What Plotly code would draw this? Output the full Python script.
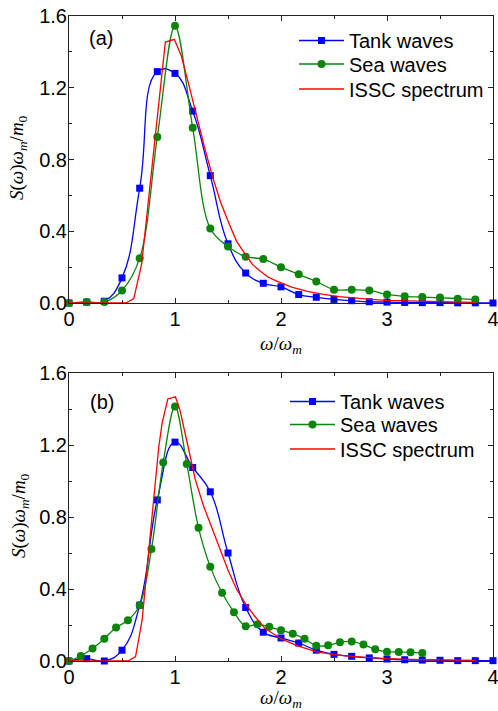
import plotly.graph_objects as go

# ---------------- data ----------------
tank_a_x = [0, 0.167, 0.333, 0.5, 0.667, 0.833, 1.0, 1.167, 1.333, 1.5, 1.667, 1.833, 2.0,
            2.167, 2.333, 2.5, 2.667, 2.833, 3.0, 3.167, 3.333, 3.5, 3.667, 3.833, 4.0]
tank_a_y = [0.0, 0.005, 0.01, 0.14, 0.64, 1.29, 1.28, 1.07, 0.71, 0.33, 0.167, 0.11, 0.09,
            0.047, 0.032, 0.02, 0.013, 0.007, 0.005, 0.003, 0.002, 0.002, 0.001, 0.001, 0.0]

sea_a_x = [0, 0.167, 0.333, 0.5, 0.667, 0.833, 1.0, 1.167, 1.333, 1.5, 1.667, 1.833, 2.0,
           2.167, 2.333, 2.5, 2.667, 2.833, 3.0, 3.167, 3.333, 3.5, 3.667, 3.833]
sea_a_y = [0.0, 0.005, 0.005, 0.07, 0.25, 0.925, 1.545, 0.977, 0.415, 0.315, 0.258, 0.245, 0.20,
           0.16, 0.12, 0.074, 0.074, 0.07, 0.048, 0.037, 0.033, 0.03, 0.024, 0.019]

issc_a_x = [0, 0.537, 0.611, 0.686, 0.760, 0.835, 0.909, 0.994, 1.058, 1.133, 1.207, 1.282,
            1.356, 1.431, 1.505, 1.58, 1.654, 1.73, 1.80, 1.877, 1.95, 2.1, 2.25, 2.4, 2.55,
            2.7, 2.85, 3.0, 3.2, 3.4, 3.6, 3.83]
issc_a_y = [0.0, 0.0, 0.025, 0.22, 0.63, 1.04, 1.455, 1.47, 1.38, 1.21, 1.035, 0.86,
            0.70, 0.56, 0.45, 0.345, 0.28, 0.215, 0.18, 0.145, 0.125, 0.088, 0.065, 0.048, 0.036,
            0.027, 0.02, 0.015, 0.011, 0.008, 0.006, 0.004]

tank_b_x = tank_a_x
tank_b_y = [0.0, 0.013, 0.0, 0.06, 0.31, 0.895, 1.216, 1.075, 0.94, 0.60, 0.297, 0.16, 0.128,
            0.10, 0.06, 0.037, 0.026, 0.017, 0.011, 0.007, 0.005, 0.004, 0.002, 0.002, 0.002]

sea_b_x = [0, 0.111, 0.222, 0.333, 0.444, 0.556, 0.667, 0.778, 0.889, 1.0, 1.111, 1.222,
           1.333, 1.444, 1.556, 1.667, 1.778, 1.889, 2.0, 2.111, 2.222, 2.333, 2.444, 2.556,
           2.667, 2.778, 2.889, 3.0, 3.111, 3.222, 3.333]
sea_b_y = [0.0, 0.028, 0.069, 0.124, 0.186, 0.226, 0.31, 0.622, 1.103, 1.414, 1.095, 0.74,
           0.523, 0.379, 0.271, 0.193, 0.204, 0.19, 0.171, 0.152, 0.123, 0.085, 0.087, 0.104,
           0.108, 0.091, 0.065, 0.052, 0.05, 0.048, 0.045]

issc_b_x = [0, 0.558, 0.628, 0.69, 0.76, 0.816, 0.847, 0.878, 0.932, 1.004, 1.045, 1.12,
            1.19, 1.27, 1.344, 1.42, 1.5, 1.58, 1.663, 1.75, 1.85, 2.0, 2.15, 2.33, 2.5,
            2.7, 3.0, 3.3, 3.6, 3.84]
issc_b_y = [0.0, 0.0, 0.024, 0.228, 0.66, 1.015, 1.19, 1.32, 1.456, 1.468, 1.398, 1.20,
            1.01, 0.86, 0.745, 0.62, 0.505, 0.40, 0.32, 0.25, 0.18, 0.124, 0.085, 0.052, 0.035,
            0.024, 0.013, 0.008, 0.005, 0.004]

x_ticks = [0, 1, 2, 3, 4]
y_ticks = [0.0, 0.4, 0.8, 1.2, 1.6]
y_tick_text = ["0.0", "0.4", "0.8", "1.2", "1.6"]
names = ["Tank waves", "Sea waves", "ISSC spectrum"]
panel_labels = ["(a)", "(b)"]

BLUE, GREEN, RED = "#0000FF", "#0A850A", "#FF0000"
FONT = "Liberation Sans, Arial, sans-serif"
SERIF = "Liberation Serif, Times New Roman, serif"

W, H = 498, 711
L, R, T, B = 69, 5, 16, 50
ph = H - T - B

def py(pix):
    return (H - B - pix) / ph

def px(pix):
    return (pix - L) / (W - L - R)

fig = go.Figure()

panels = [
    ("x", "y", ["legend", "legend2", "legend3"], tank_a_x, tank_a_y, sea_a_x, sea_a_y, issc_a_x, issc_a_y),
    ("x2", "y2", ["legend4", "legend5", "legend6"], tank_b_x, tank_b_y, sea_b_x, sea_b_y, issc_b_x, issc_b_y),
]
for xa, ya, lg, tx, ty, sx, sy, ix, iy in panels:
    fig.add_trace(go.Scatter(x=tx, y=ty, name=names[0], mode="lines+markers", xaxis=xa, yaxis=ya,
                             legend=lg[0], line=dict(color=BLUE, width=1.3, shape="spline", smoothing=1.3),
                             marker=dict(symbol="square", size=7, color=BLUE), cliponaxis=False))
    fig.add_trace(go.Scatter(x=sx, y=sy, name=names[1], mode="lines+markers", xaxis=xa, yaxis=ya,
                             legend=lg[1], line=dict(color=GREEN, width=1.3, shape="spline", smoothing=1),
                             marker=dict(symbol="circle", size=8, color=GREEN), cliponaxis=False))
    fig.add_trace(go.Scatter(x=ix, y=iy, name=names[2], mode="lines", xaxis=xa, yaxis=ya,
                             legend=lg[2], line=dict(color=RED, width=1.3)))

axis_common = dict(showline=True, linecolor="#222", linewidth=1, mirror="allticks",
                   ticks="inside", ticklen=5, tickcolor="#222", showgrid=False, zeroline=False,
                   automargin=False, ticklabeloverflow="allow",
                   tickfont=dict(family=FONT, size=20, color="black"))
x_common = dict(axis_common, range=[0, 4], tickvals=x_ticks, ticklabelstandoff=-2,
                minor=dict(dtick=0.5, ticks="inside", ticklen=3, tickcolor="#222", showgrid=False))
y_common = dict(axis_common, range=[0, 1.6], tickvals=y_ticks, ticktext=y_tick_text,
                ticklabelstandoff=-3,
                minor=dict(dtick=0.2, ticks="inside", ticklen=3, tickcolor="#222", showgrid=False))

def leg(xpix, ypix):
    return dict(x=px(xpix), y=py(ypix), xanchor="left", yanchor="top", bgcolor="rgba(0,0,0,0)",
                font=dict(family=FONT, size=20, color="black"), itemwidth=45)

fig.update_layout(
    width=W, height=H, margin=dict(l=L, r=R, t=T, b=B, autoexpand=False),
    paper_bgcolor="white", plot_bgcolor="white",
    xaxis=dict(x_common, domain=[0, 1], anchor="y"),
    yaxis=dict(y_common, domain=[py(303), 1.0], anchor="x"),
    xaxis2=dict(x_common, domain=[0, 1], anchor="y2"),
    yaxis2=dict(y_common, domain=[0, py(373)], anchor="x2"),
    legend=leg(294, 21), legend2=leg(294, 44.5), legend3=leg(294, 69.5),
    legend4=leg(285, 382), legend5=leg(285, 405), legend6=leg(285, 429.5),
    showlegend=True,
)

ytitle = "<i>S</i>(<i>ω</i>)<i>ω</i><sub><i>m</i></sub>/<i>m</i><sub>0</sub>"
xtitle = "<i>ω</i>/<i>ω</i><sub><i>m</i></sub>"
annos = [
    dict(text=panel_labels[0], x=0.30, y=1.48, xref="x", yref="y", showarrow=False,
         font=dict(family=FONT, size=20, color="black")),
    dict(text=panel_labels[1], x=0.31, y=1.44, xref="x2", yref="y2", showarrow=False,
         font=dict(family=FONT, size=20, color="black")),
    dict(text=ytitle, textangle=-90, x=px(18), y=py(158), xref="paper", yref="paper",
         xanchor="center", yanchor="middle",
         showarrow=False, font=dict(family=SERIF, size=19, color="black")),
    dict(text=ytitle, textangle=-90, x=px(20), y=py(516), xref="paper", yref="paper",
         xanchor="center", yanchor="middle",
         showarrow=False, font=dict(family=SERIF, size=19, color="black")),
    dict(text=xtitle, x=2, y=py(345), xref="x", yref="paper", xanchor="center", yanchor="middle",
         showarrow=False, font=dict(family=SERIF, size=19, color="black")),
    dict(text=xtitle, x=2, y=py(699), xref="x2", yref="paper", xanchor="center", yanchor="middle",
         showarrow=False, font=dict(family=SERIF, size=19, color="black")),
]
fig.update_layout(annotations=annos)

fig.write_html("out.html", config={"displayModeBar": False},
               post_script="document.body.style.margin='0';document.body.style.overflow='hidden';")
